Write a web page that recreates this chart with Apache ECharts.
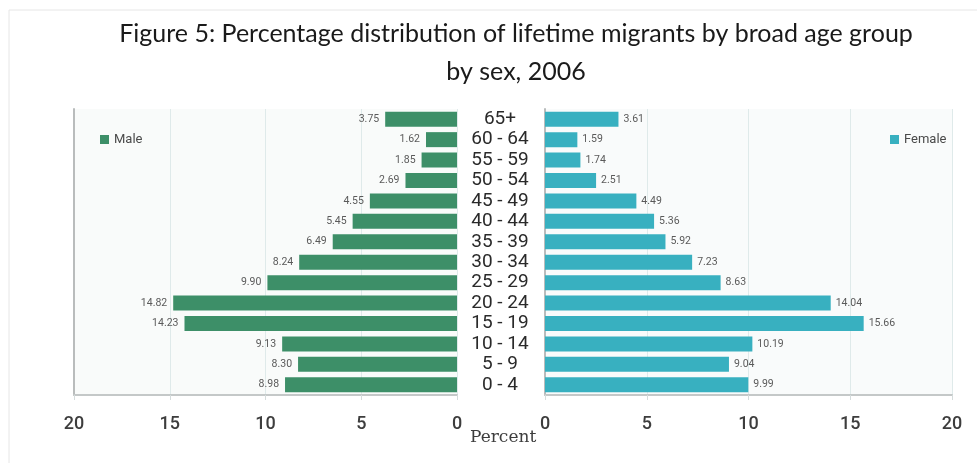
<!DOCTYPE html>
<html>
<head>
<meta charset="utf-8">
<script src="https://cdn.jsdelivr.net/npm/echarts@6/dist/echarts.min.js"></script>
<style>
  html, body { margin: 0; padding: 0; background: #ffffff; }
  #chart { width: 977px; height: 463px; }
</style>
</head>
<body>
<div id="chart"></div>
<script>
// Age groups, bottom to top
const ageGroups = ['0 - 4', '5 - 9', '10 - 14', '15 - 19', '20 - 24', '25 - 29', '30 - 34',
  '35 - 39', '40 - 44', '45 - 49', '50 - 54', '55 - 59', '60 - 64', '65+'];
// Percent of lifetime migrants by sex
const maleValues = [8.98, 8.30, 9.13, 14.23, 14.82, 9.90, 8.24, 6.49, 5.45, 4.55, 2.69, 1.85, 1.62, 3.75];
const femaleValues = [9.99, 9.04, 10.19, 15.66, 14.04, 8.63, 7.23, 5.92, 5.36, 4.49, 2.51, 1.74, 1.59, 3.61];
const percentTicks = [0, 5, 10, 15, 20];

const MALE = '#3d8f68';
const FEMALE = '#38b0c0';
const GRID_LINE = '#dfeaea';
const FRAME = '#b9bcbc';

const chart = echarts.init(document.getElementById('chart'), null, { renderer: 'canvas' });

const valueAxis = (gridIndex, inverse) => ({
  type: 'value', gridIndex, inverse,
  min: percentTicks[0], max: percentTicks[percentTicks.length - 1], interval: 5,
  axisLine: { show: true, lineStyle: { color: '#c4c8c8', width: 2 } },
  axisTick: { show: true, length: 5, lineStyle: { color: '#d5dcdc' } },
  splitLine: { show: true, lineStyle: { color: GRID_LINE, width: 1 } },
  axisLabel: { margin: 20, fontFamily: 'Roboto', fontWeight: 500, fontSize: 18, color: '#3d3d3d' }
});

const fmt = p => Number(p.value).toFixed(2);

chart.setOption({
  animation: false,
  backgroundColor: '#ffffff',
  title: {
    text: 'Figure 5: Percentage distribution of lifetime migrants by broad age group\nby sex, 2006',
    left: 511, top: 10, textAlign: 'center',
    textStyle: { fontFamily: 'Lato', fontWeight: 'normal', fontSize: 25, lineHeight: 38, color: '#1a1a1a' }
  },
  legend: [
    {
      data: ['Male'], left: 95, top: 128, itemWidth: 9, itemHeight: 9, itemGap: 4,
      icon: 'rect', textStyle: { fontFamily: 'Roboto', fontSize: 13, color: '#4a4a4a' }
    },
    {
      data: ['Female'], left: 885, top: 128, itemWidth: 9, itemHeight: 9, itemGap: 4,
      icon: 'rect', textStyle: { fontFamily: 'Roboto', fontSize: 13, color: '#4a4a4a' }
    }
  ],
  grid: [
    { left: 74, right: 977 - 457, top: 109, bottom: 463 - 395, show: true, backgroundColor: '#f9fbfa', borderWidth: 0 },
    { left: 545, right: 977 - 952, top: 109, bottom: 463 - 395, show: true, backgroundColor: '#f9fbfb', borderWidth: 0 }
  ],
  xAxis: [valueAxis(0, true), valueAxis(1, false)],
  yAxis: [
    {
      type: 'category', gridIndex: 0, data: ageGroups, position: 'right',
      axisLine: { show: false }, axisTick: { show: false },
      axisLabel: { interval: 0, margin: 43, align: 'center', fontFamily: 'Roboto', fontSize: 19,
        lineHeight: 19, color: '#2a2a2a' }
    },
    {
      type: 'category', gridIndex: 0, data: ageGroups, position: 'left',
      axisLine: { show: true, lineStyle: { color: FRAME, width: 2 } },
      axisTick: { show: false }, axisLabel: { show: false }
    },
    {
      type: 'category', gridIndex: 1, data: ageGroups, position: 'right',
      axisLine: { show: true, lineStyle: { color: FRAME, width: 2 } },
      axisTick: { show: false }, axisLabel: { show: false }
    }
  ],
  series: [
    {
      name: 'Male', type: 'bar', xAxisIndex: 0, yAxisIndex: 0, data: maleValues,
      barWidth: 15, itemStyle: { color: MALE },
      label: { show: true, position: 'left', distance: 6, formatter: fmt,
        fontFamily: 'Roboto', fontSize: 10.5, color: '#5a5a5a' }
    },
    {
      name: 'Female', type: 'bar', xAxisIndex: 1, yAxisIndex: 2, data: femaleValues,
      barWidth: 15, itemStyle: { color: FEMALE },
      label: { show: true, position: 'right', distance: 5, formatter: fmt,
        fontFamily: 'Roboto', fontSize: 10.5, color: '#5a5a5a' }
    }
  ],
  graphic: [
    // shared axis title under the two panels
    { type: 'text', left: 470, top: 429,
      style: { text: 'Percent', font: '17px "DejaVu Serif"', fill: '#3d3d3d' } },
    // thin page frame along the top and left edges
    { type: 'line', shape: { x1: 9, y1: 10, x2: 977, y2: 10 }, style: { stroke: '#e6e6e6', lineWidth: 1 } },
    { type: 'line', shape: { x1: 9, y1: 10, x2: 9, y2: 463 }, style: { stroke: '#e6e6e6', lineWidth: 1 } }
  ]
});
</script>
</body>
</html>
